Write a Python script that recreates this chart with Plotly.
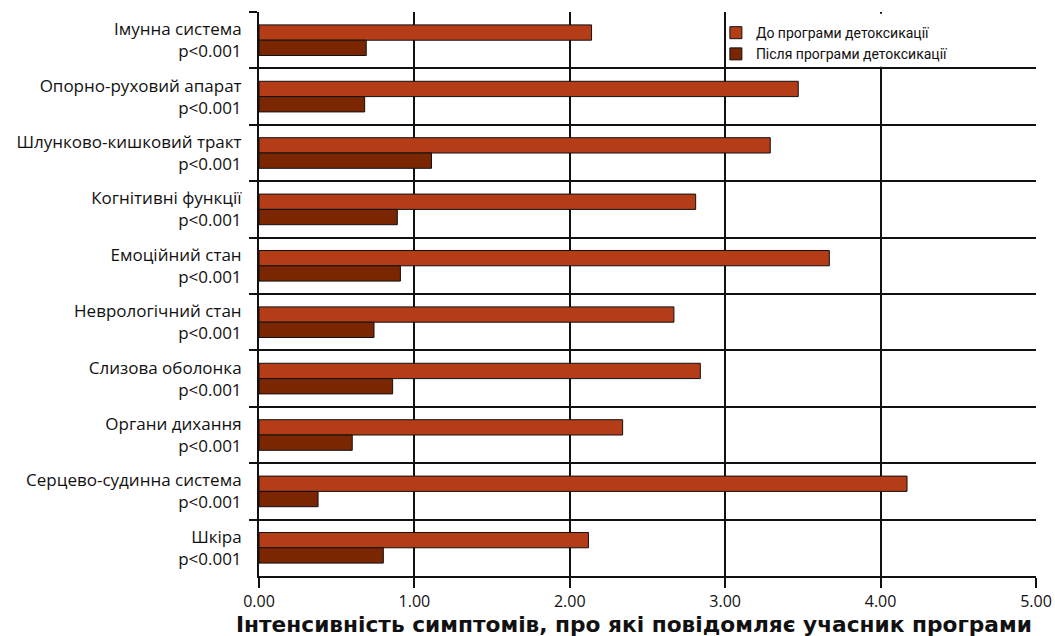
import plotly.graph_objects as go

categories = [
    "Імунна система",
    "Опорно-руховий апарат",
    "Шлунково-кишковий тракт",
    "Когнітивні функції",
    "Емоційний стан",
    "Неврологічний стан",
    "Слизова оболонка",
    "Органи дихання",
    "Серцево-судинна система",
    "Шкіра",
]
p_values = ["p&lt;0.001"] * 10
before = [2.14, 3.47, 3.29, 2.81, 3.67, 2.67, 2.84, 2.34, 4.17, 2.12]
after = [0.69, 0.68, 1.11, 0.89, 0.91, 0.74, 0.86, 0.60, 0.38, 0.80]
series_names = ["До програми детоксикації", "Після програми детоксикації"]
x_ticks = [0, 1, 2, 3, 4, 5]
x_title = "Інтенсивність симптомів, про які повідомляє учасник програми"

labels = [f"{c}<br>{p}" for c, p in zip(categories, p_values)]

LIGHT = "#B43D17"
DARK = "#7A2600"
LINE = "#111111"

fig = go.Figure()
fig.add_trace(go.Bar(
    y=labels, x=before, orientation="h", name=series_names[0],
    marker=dict(color=LIGHT, line=dict(color=LINE, width=1)),
))
fig.add_trace(go.Bar(
    y=labels, x=after, orientation="h", name=series_names[1],
    marker=dict(color=DARK, line=dict(color=LINE, width=1)),
))

# white backing for the legend box (hides the 4.00 gridline in the top band)
fig.add_shape(
    type="rect", xref="x", yref="y",
    x0=3.015, x1=4.985, y0=-0.47, y1=0.47,
    fillcolor="white", line=dict(width=0), layer="above",
)

# x-axis title (slightly left of the plot centre, as in the original)
fig.add_annotation(
    text=f"<b>{x_title}</b>", xref="paper", yref="paper",
    x=0.4826, xanchor="center", y=0, yanchor="top", yshift=-34,
    showarrow=False,
    font=dict(family="DejaVu Sans, sans-serif", size=21.7, color="#111111"),
)

fig.update_layout(
    width=1055, height=636,
    margin=dict(l=259, r=19, t=12, b=60),
    paper_bgcolor="white", plot_bgcolor="white",
    barmode="group", bargap=0.457, bargroupgap=0,
    font=dict(family="Open Sans, sans-serif", color="#111111"),
    showlegend=True,
    legend=dict(
        x=0.588, xanchor="left", y=0.991, yanchor="top",
        bgcolor="rgba(0,0,0,0)", borderwidth=0,
        font=dict(family="Roboto, sans-serif", size=14, color="#111111"),
        traceorder="normal",
        itemclick=False,
        tracegroupgap=0,
    ),
    xaxis=dict(
        range=[0, 5], tickvals=x_ticks, tickformat=".2f",
        automargin=False,
        showgrid=True, gridcolor=LINE, gridwidth=2,
        zeroline=False,
        showline=True, linecolor=LINE, linewidth=2,
        ticks="outside", ticklen=10, tickwidth=2, tickcolor=LINE,
        tickfont=dict(family="Open Sans, sans-serif", size=16, color="#111111"),
        fixedrange=True,
    ),
    yaxis=dict(
        type="category", autorange="reversed",
        automargin=False,
        tickson="boundaries",
        showgrid=True, gridcolor=LINE, gridwidth=2,
        showline=True, linecolor=LINE, linewidth=2,
        ticks="outside", ticklen=8, tickwidth=2, tickcolor=LINE,
        ticklabelstandoff=12,
        tickfont=dict(family="Open Sans, sans-serif", size=17, color="#111111"),
        fixedrange=True,
    ),
)

fig.write_html("out.html")
